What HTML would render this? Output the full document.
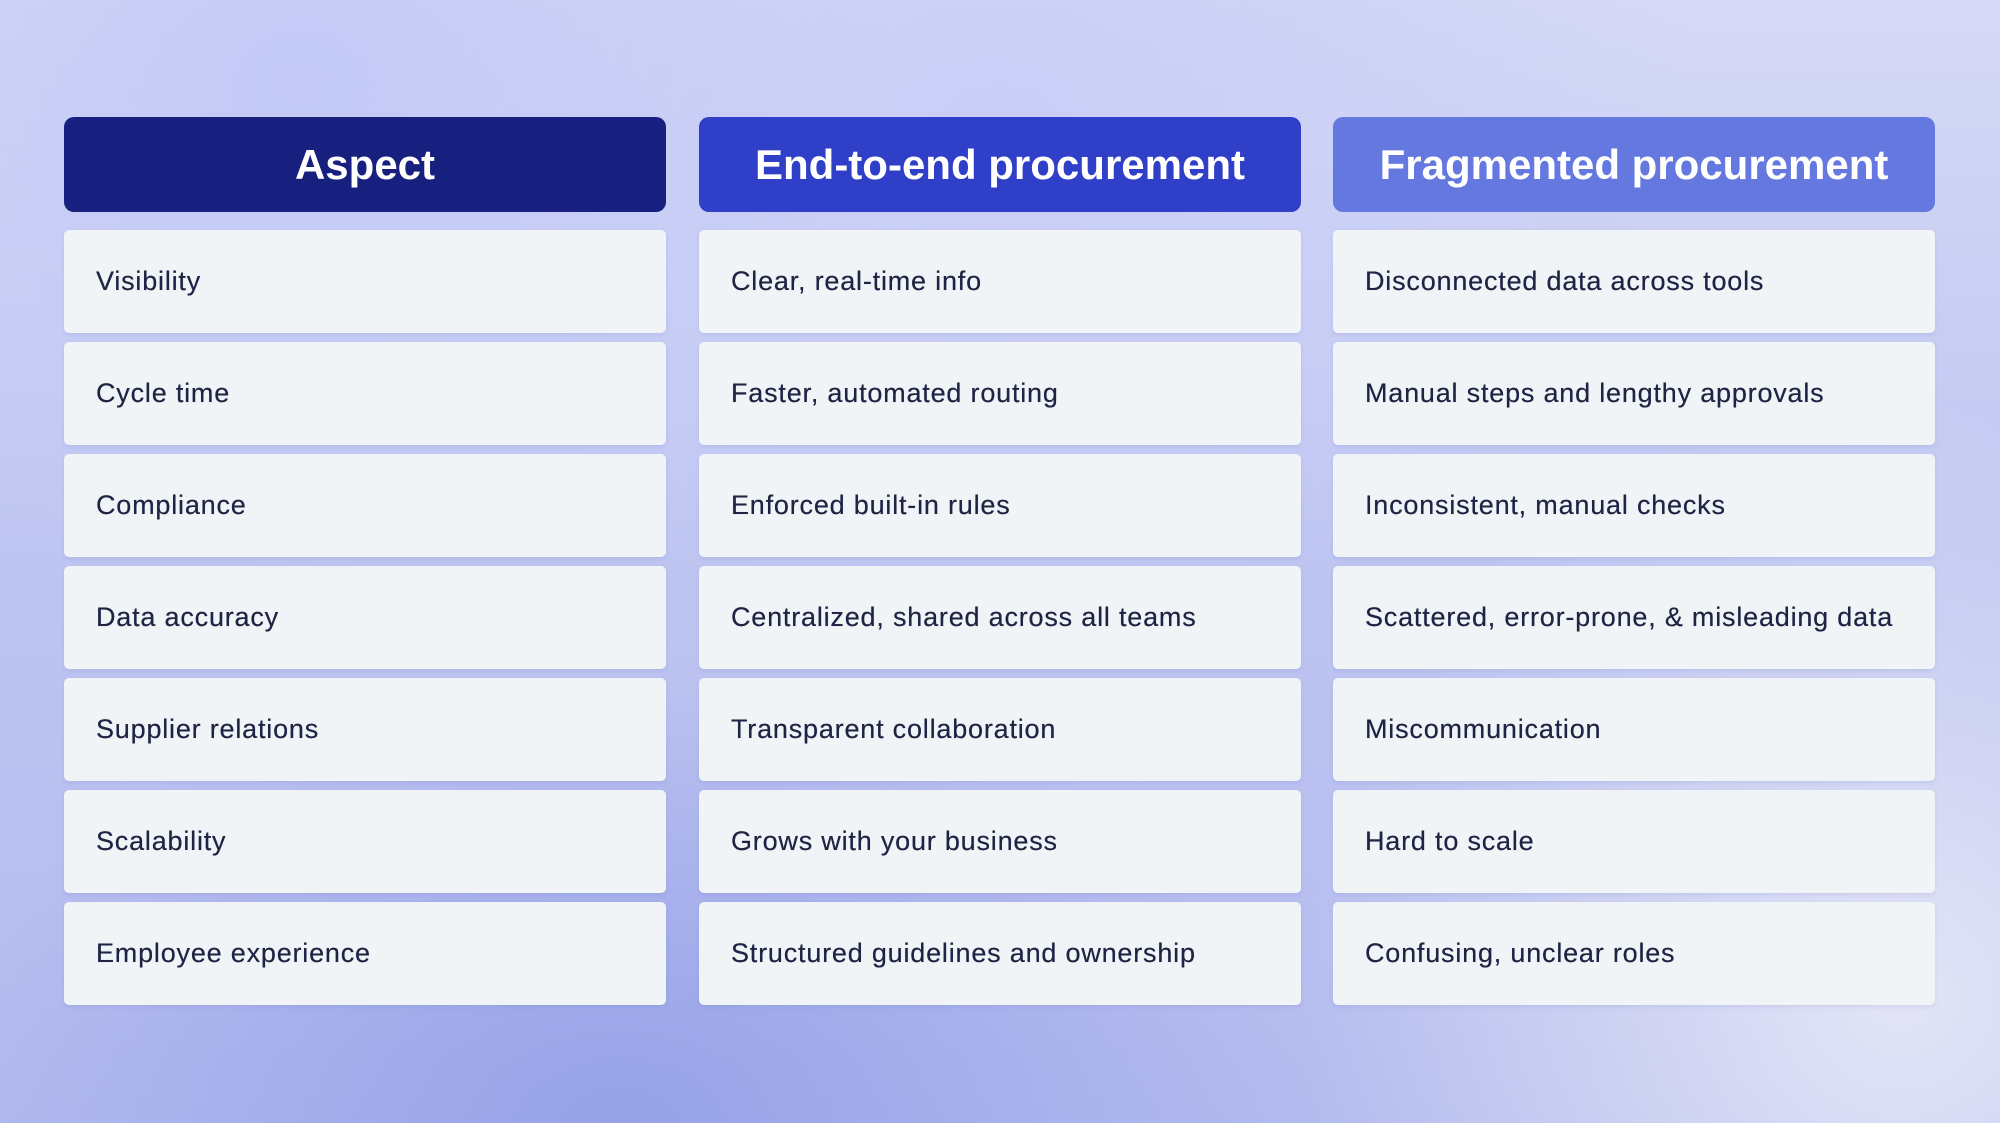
<!DOCTYPE html>
<html><head><meta charset="utf-8"><style>
html,body{margin:0;padding:0}
body{width:2000px;height:1123px;overflow:hidden;position:relative;font-family:"Liberation Sans",sans-serif;
background:
radial-gradient(ellipse 700px 450px at 620px 1123px,#97a2e8 0%,rgba(151,162,232,0) 100%),
radial-gradient(ellipse 600px 500px at 300px 80px,#c3c9f6 0%,rgba(195,201,246,0) 100%),
radial-gradient(ellipse 700px 500px at 1000px 120px,#c9cef7 0%,rgba(201,206,247,0) 100%),
radial-gradient(ellipse 600px 600px at 1900px 1000px,#e3e5f6 0%,rgba(227,229,246,0) 100%),
linear-gradient(180deg,#d6daf6 0%,#bec5f1 50%,#b3bbee 100%);}
.h{position:absolute;top:117px;width:602px;height:95px;border-radius:10px;color:#fff;font-size:42px;display:flex;align-items:center;justify-content:center;font-weight:bold}
.c{position:absolute;width:602px;height:103px;background:#f1f4f7;border-radius:5px;color:#1e2444;font-size:27px;letter-spacing:0.8px;text-shadow:0 0 0.4px #1e2444;display:flex;align-items:center;box-sizing:border-box;padding-left:32px;box-shadow:0 2px 4px rgba(80,90,180,0.12)}
</style></head><body>
<div class="h" style="left:64px;background:#17207e">Aspect</div>
<div class="h" style="left:699px;background:#2f3fc8">End-to-end procurement</div>
<div class="h" style="left:1333px;background:#6478e0">Fragmented procurement</div>

<div class="c" style="left:64px;top:230px">Visibility</div>
<div class="c" style="left:699px;top:230px">Clear, real-time info</div>
<div class="c" style="left:1333px;top:230px">Disconnected data across tools</div>

<div class="c" style="left:64px;top:342px">Cycle time</div>
<div class="c" style="left:699px;top:342px">Faster, automated routing</div>
<div class="c" style="left:1333px;top:342px">Manual steps and lengthy approvals</div>

<div class="c" style="left:64px;top:454px">Compliance</div>
<div class="c" style="left:699px;top:454px">Enforced built-in rules</div>
<div class="c" style="left:1333px;top:454px">Inconsistent, manual checks</div>

<div class="c" style="left:64px;top:566px">Data accuracy</div>
<div class="c" style="left:699px;top:566px">Centralized, shared across all teams</div>
<div class="c" style="left:1333px;top:566px">Scattered, error-prone, &amp; misleading data</div>

<div class="c" style="left:64px;top:678px">Supplier relations</div>
<div class="c" style="left:699px;top:678px">Transparent collaboration</div>
<div class="c" style="left:1333px;top:678px">Miscommunication</div>

<div class="c" style="left:64px;top:790px">Scalability</div>
<div class="c" style="left:699px;top:790px">Grows with your business</div>
<div class="c" style="left:1333px;top:790px">Hard to scale</div>

<div class="c" style="left:64px;top:902px">Employee experience</div>
<div class="c" style="left:699px;top:902px">Structured guidelines and ownership</div>
<div class="c" style="left:1333px;top:902px">Confusing, unclear roles</div>
</body></html>
